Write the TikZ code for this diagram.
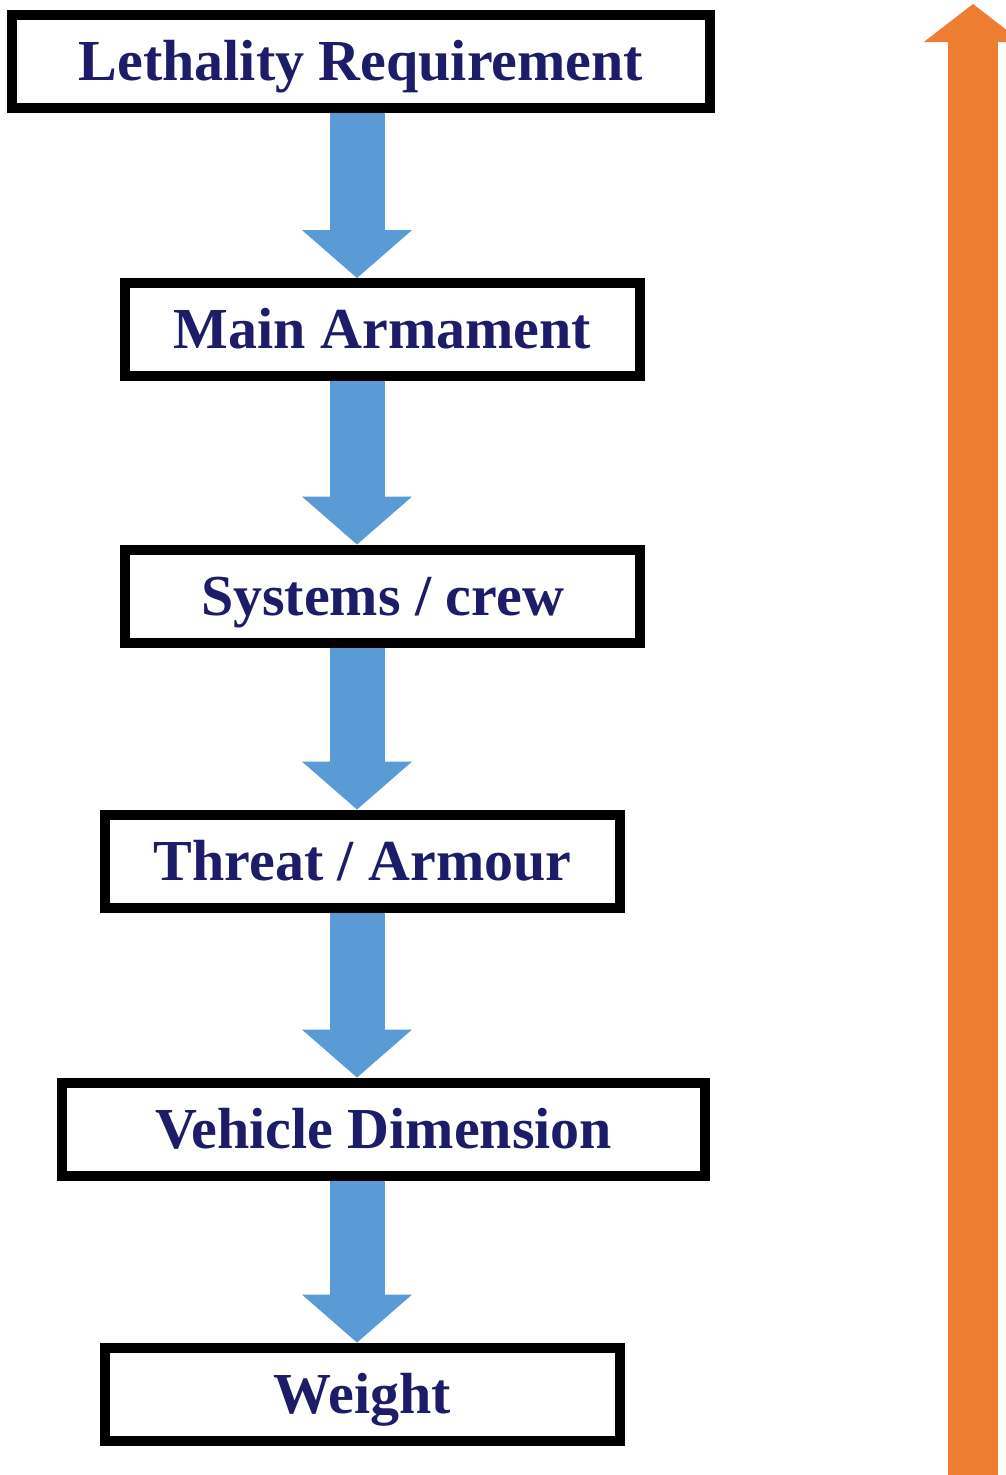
\documentclass[tikz,border=0pt]{standalone}
\usepackage{fontspec}
\setmainfont{Liberation Serif}
\usetikzlibrary{arrows.meta}
\definecolor{navytext}{RGB}{28,28,104}
\definecolor{flowblue}{RGB}{91,155,213}
\definecolor{riseorange}{RGB}{237,125,49}

\begin{document}
\begin{tikzpicture}[x=0.2mm,y=-0.2mm]
\tikzset{B/.style={draw=black,line width=2mm,fill=white,rectangle,minimum height=18.6mm,
  text=navytext,font=\fontsize{33}{36}\selectfont\bfseries,text height=22pt,text depth=0pt}}
\tikzset{flow/.style={flowblue,line width=11mm,-{Triangle[length=9.6mm,width=22mm,line width=0.2mm]}}}
\tikzset{rise/.style={riseorange,line width=10mm,-{Triangle[length=7.6mm,width=19.6mm,line width=0.2mm]}}}

  \useasboundingbox (0,0) rectangle (1006,1475);

  \node[B,minimum width=139.6mm] (lr) at (361,61.5)  {Lethality Requirement};
  \node[B,minimum width=103mm]   (ma) at (382.5,329.5) {Main Armament};
  \node[B,minimum width=103mm]   (sc) at (382.5,596) {Systems / crew};
  \node[B,minimum width=103mm]   (ta) at (362.5,861) {Threat / Armour};
  \node[B,minimum width=128.6mm] (vd) at (383.5,1129) {Vehicle Dimension};
  \node[B,minimum width=103mm]   (w)  at (362.5,1394) {Weight};

  \coordinate (axis) at (357,0);
  \draw[flow] (lr.south -| axis) -- (ma.north -| axis);
  \draw[flow] (ma.south -| axis) -- (sc.north -| axis);
  \draw[flow] (sc.south -| axis) -- (ta.north -| axis);
  \draw[flow] (ta.south -| axis) -- (vd.north -| axis);
  \draw[flow] (vd.south -| axis) -- (w.north -| axis);

  % overall direction
  \coordinate (o1) at (973,1480);
  \coordinate (o2) at (973,4);
  \draw[rise] (o1) -- (o2);
\end{tikzpicture}
\end{document}
